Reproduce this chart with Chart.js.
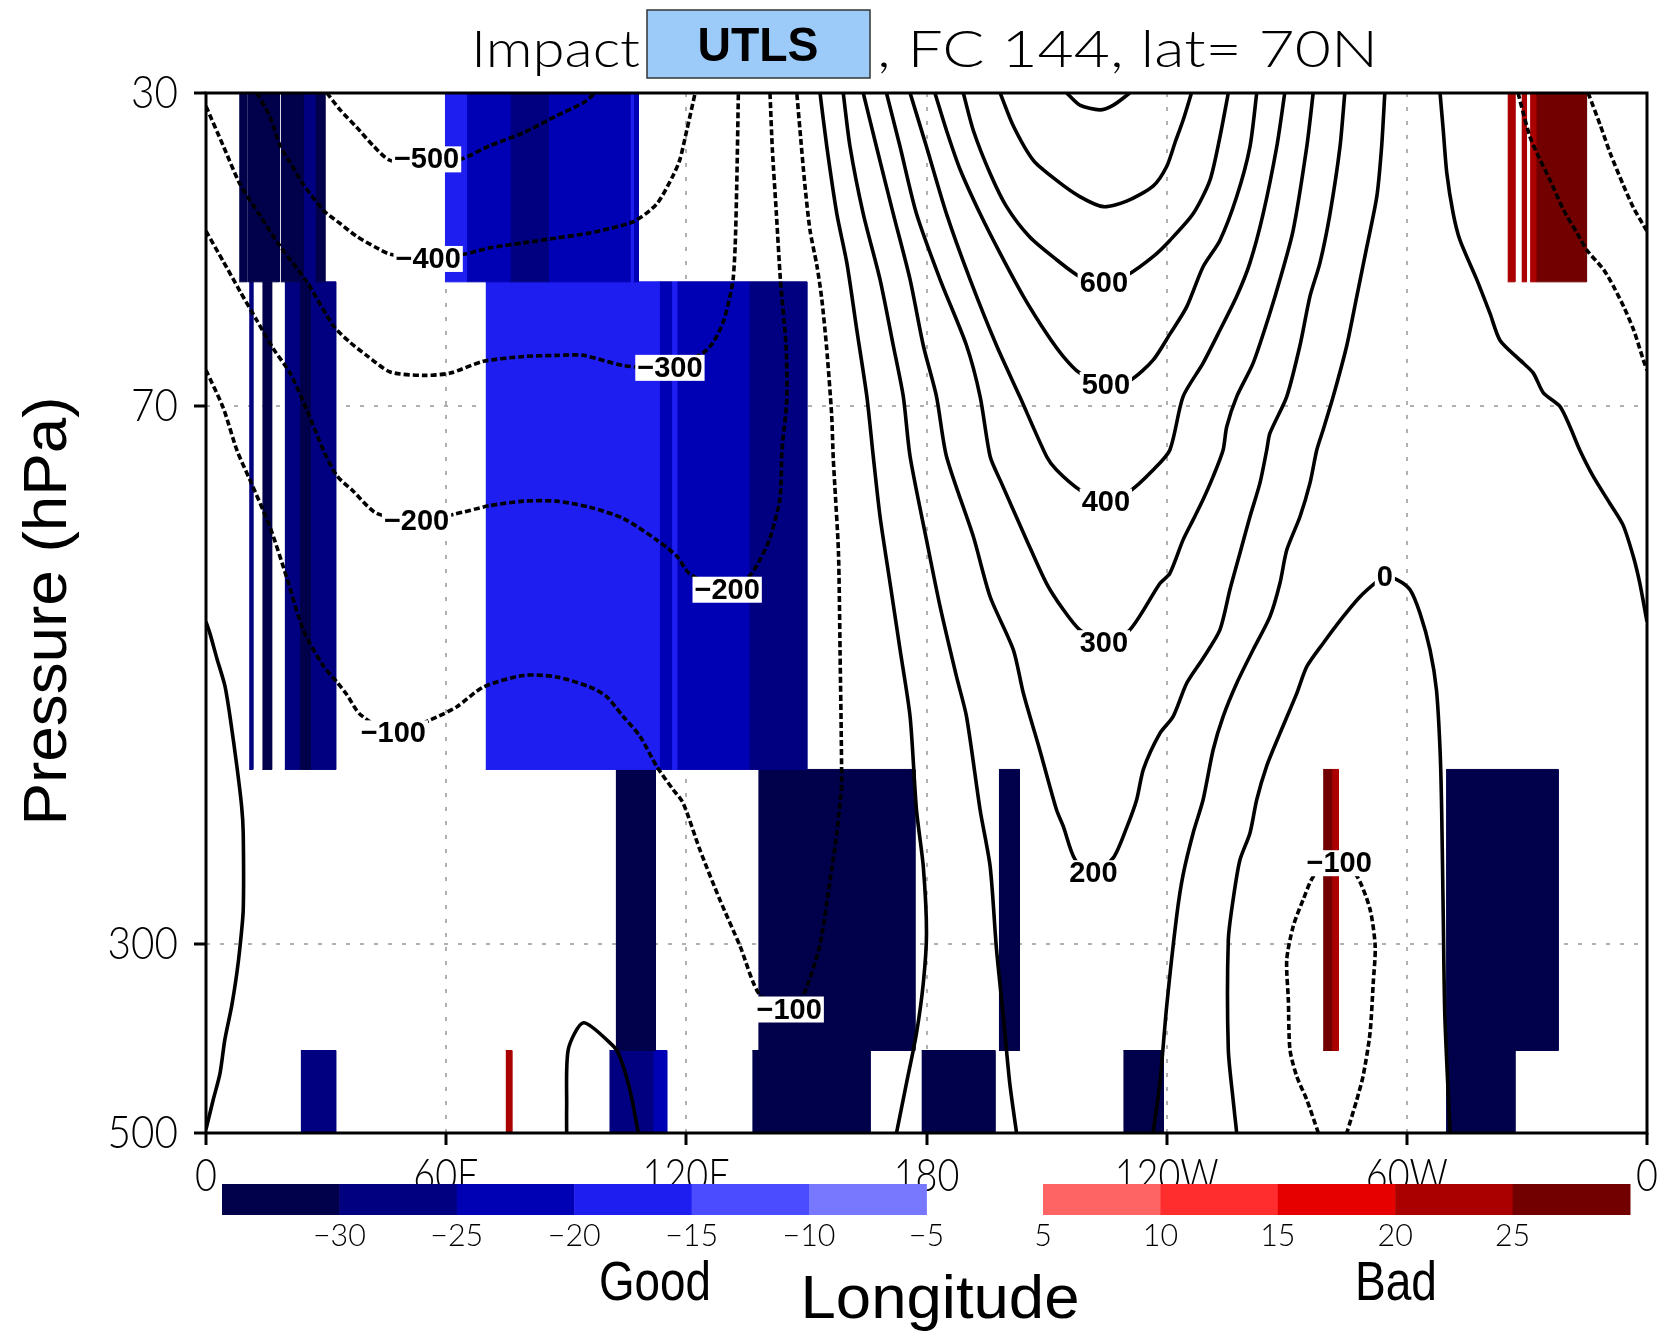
<!DOCTYPE html>
<html>
<head>
<meta charset="utf-8">
<script src="https://cdn.jsdelivr.net/npm/chart.js@4.4.1/dist/chart.umd.min.js"></script>
<style>
  html, body { margin: 0; padding: 0; background: #ffffff; }
  canvas { display: block; }
</style>
</head>
<body>
<canvas id="impact" width="1660" height="1333"></canvas>
<script>
// ---------- axes ----------
const lonTicks = [0, 60, 120, 180, 240, 300, 360];
const lonTickLabels = ['0', '60E', '120E', '180', '120W', '60W', '0'];
const pressureTicks = [30, 70, 300, 500];

// ---------- shaded impact cells: [lonStart, lonEnd, impact] per pressure layer ----------
const layerBounds = [30, 50, 187, 400, 500];
const layer1Cells = [[8.3,10.2,-32],[10.4,18.3,-32],[18.7,24.3,-32],[24.3,27.2,-27],[27.2,29.7,-32],
  [59.7,65.1,-17],[65.1,75.9,-22],[75.9,85.5,-27],[85.5,105.9,-22],[105.9,106.7,-17],[106.7,108.0,-22],
  [325.2,327.0,22],[328.7,329.9,22],[330.8,332.2,22],[332.2,344.9,27]];
const layer2Cells = [[10.8,11.7,-27],[14.1,16.4,-32],[19.7,23.3,-27],[23.3,26.0,-32],[26.0,32.4,-27],
  [69.9,113.2,-17],[113.2,116.3,-22],[116.3,117.6,-17],[117.6,135.6,-22],[135.6,150.1,-27]];
const layer3Cells = [[102.4,112.3,-32],[138.0,177.1,-32],[198.1,203.2,-32],[279.1,281.2,27],[281.2,282.9,22],[309.8,337.8,-32]];
const layer4Cells = [[23.7,32.4,-27],[74.9,76.4,22],[100.8,111.6,-27],[111.6,115.1,-22],[136.5,165.9,-32],
  [178.8,197.1,-32],[229.2,239.2,-32],[309.8,327.0,-32]];

// ---------- colour scale ----------
const goodBounds = [-30, -25, -20, -15, -10, -5];
const goodColors = ['#00004b', '#000080', '#0000b4', '#1e1ef0', '#4b4bff', '#7878ff'];
const badBounds = [5, 10, 15, 20, 25];
const badColors = ['#ff6464', '#ff2d2d', '#e60000', '#aa0000', '#730000'];

// ---------- contour lines: [lon, pressure] ----------
const cNeg500 = [[30.2,30],[33.5,31.4],[37.6,32.9],[41.8,34.6],[46.0,36.0],[55.1,36.2],[63.5,35.9],[70.9,34.6],[79.3,33.4],[87.6,31.9],[94.3,30.8],[97.2,30]];
const cNeg400 = [[12.7,30],[16.0,32.0],[18.5,34.6],[21.0,36.2],[24.3,38.4],[29.3,41.2],[33.5,42.7],[37.6,44.2],[42.6,45.6],[46.0,46.4],[55.5,47.0],[64.3,46.4],[70.9,45.6],[79.3,45.0],[87.6,44.4],[95.9,43.8],[106.7,42.5],[112.6,40.5],[116.7,37.5],[118.4,35.9],[120.1,33.2],[122.2,30]];
const cNeg300 = [[0,31.1],[4.3,34.6],[8.5,38.4],[13.5,41.8],[18.5,45.4],[25.2,50.0],[31.8,56.3],[36.0,58.9],[40.1,61.0],[46.0,63.8],[54.3,64.4],[61.0,64.0],[69.3,62.0],[79.3,61.2],[87.6,61.0],[94.3,61.0],[104.3,62.7],[115.9,63.1],[124.2,60.6],[126.7,58.9],[129.2,55.8],[130.9,52.0],[131.7,49.6],[132.2,45.4],[132.6,38.4],[133.0,30]];
const cNeg200 = [[0,43.6],[4.3,47.3],[8.5,51.3],[12.7,55.5],[16.8,59.9],[21.0,64.0],[25.2,70.7],[29.3,78.8],[32.7,84.5],[36.8,88.1],[42.6,93.5],[52.6,95.4],[61.8,93.8],[70.9,91.6],[79.3,90.5],[87.6,90.5],[95.9,92.0],[104.2,94.8],[112.6,100.5],[117.6,105],[120.9,110.2],[130.2,115],[135.9,110.6],[138.4,106],[140.9,100],[143.4,89.8],[143.9,78.8],[145.1,68.8],[144.9,59.4],[143.5,49.7],[142.5,41.6],[141.5,35.0],[140.9,30]];
const cNeg200East = [[345.3,30],[348.3,32.7],[350.8,35.3],[354.1,38.5],[356.6,40.9],[360,43.6]];
const cNeg100 = [[0,63.5],[4.3,70.3],[7.7,78.8],[11.0,85.5],[16.0,97.1],[20.2,111.4],[24.3,128.2],[29.3,141.3],[32.7,147.6],[35.2,152.8],[38.5,161.1],[46.8,169.6],[56.0,163.6],[62.6,157.9],[69.3,149.6],[79.3,145.0],[87.6,145.6],[95.9,149.6],[100.1,153.6],[104.2,162.0],[108.4,170.9],[112.6,185.5],[116.7,197.5],[119.2,204.8],[123.4,232.5],[128.4,266.2],[133.4,301.4],[138.4,344.5],[145.7,358],[149.2,344.5],[153.3,301.4],[155.8,254.4],[157.6,222.2],[158.4,204.3],[158.8,194],[158.4,135.3],[158.0,103.8],[157.1,86.9],[156.7,80.5],[156.3,71.6],[155.0,59.4],[153.8,52.2],[152.6,47.8],[150.9,43.5],[149.6,38.4],[148.4,33.2],[147.6,30]];
const cNeg100East = [[327.8,30],[329.1,31.7],[330.8,33.8],[332.5,35.3],[335.8,38.0],[339.2,41.2],[342.5,43.8],[345.0,45.9],[349.2,48.4],[351.7,50.7],[354.2,53.5],[356.7,57.0],[359.1,61.8],[360,63.5]];
const cNeg100Trough = [[277.9,500],[275.0,457],[272.5,429],[270.8,399],[270.4,349],[270.0,313],[271.6,286],[274.1,266],[277.0,248.7],[283.1,241],[287.5,249.5],[290.8,273],[292.1,302],[291.6,333.4],[290.8,381.7],[289.1,428],[287.5,457],[285.0,500]];
const cZeroWest = [[0,125.4],[1.0,129.5],[2.7,138.4],[4.7,149.0],[6.0,162.1],[7.7,185.2],[8.9,206.6],[9.3,222.2],[9.3,273.4],[8.5,302],[7.7,324.6],[6.4,355],[4.7,388.7],[3.5,425.5],[1.8,457],[0,495]];
const cZeroMid = [[153.4,30],[155.1,34.7],[157.6,41.6],[160.1,47.5],[162.6,57.0],[165.1,68.2],[166.7,80.2],[168.4,94.4],[170.9,113.0],[173.4,135.3],[175.9,162.1],[177.5,208.7],[179.2,243.2],[180.0,291.2],[179.2,333.4],[177.5,381.7],[175.0,437],[172.5,500]];
const cZeroLoop = [[90.1,500],[90.1,467],[90.5,399],[94.3,371],[101.7,395],[103.4,407],[105.9,445],[108.0,500]];
const cZeroDome = [[257.5,500],[256.6,457],[255.4,399],[255.4,296.6],[256.6,266],[258.3,238.9],[260.8,222.2],[262.5,203],[265.0,185.2],[268.3,169.6],[272.5,152.2],[275.0,141.6],[279.1,132.9],[284.1,123.7],[288.3,117.2],[292.5,112.5],[294.5,111],[297.5,111.9],[300.8,115],[303.3,122.6],[305.8,135.3],[307.4,150.8],[308.3,177.4],[308.7,208.7],[309.1,278.4],[309.5,364.9],[310.8,500]];
const cZeroEast = [[308.3,30],[309.1,33.2],[310.0,37.3],[311.6,41.6],[313.3,44.7],[317.4,49.6],[320.8,54.5],[323.3,58.6],[328.3,61.8],[331.6,64.0],[334.1,67.5],[338.2,70.0],[340.7,73.9],[343.2,78.8],[346.6,84.7],[350.7,91],[354.0,96.5],[356.6,105.2],[358.2,113],[360,125.4]];
const c100West = [[159.2,30],[160.9,34.7],[164.2,41.6],[168.4,49.7],[171.7,59.4],[174.2,68.2],[175.9,80.2],[180.0,100.5],[183.4,120.4],[187.5,145.5],[190.0,162.1],[193.4,208.7],[195.9,243.2],[197.5,304.7],[199.2,365],[200.8,437],[202.5,500]];
const c100East = [[236.6,500],[238.3,437],[240.0,355],[242.5,278],[244.1,248.7],[246.6,222.2],[249.1,203],[251.6,177.4],[254.1,162.1],[257.5,148.1],[261.6,135.3],[265.8,123.7],[268.3,113],[270.0,103.3],[273.3,94.4],[275.8,86.2],[277.5,78.8],[279.1,74.6],[281.6,68.2],[285.0,59.4],[287.5,52.0],[290.0,45.5],[292.5,39.7],[293.7,34.7],[294.5,30]];
const c200 = [[164.2,30],[167.5,34.7],[171.7,41.6],[175.9,49.7],[179.2,59.4],[182.5,68.2],[185.0,80.2],[191.7,99.6],[195.9,117.2],[201.7,135.3],[204.2,152.2],[208.3,177.4],[212.5,208.7],[214.2,218.3],[217.1,238.5],[221.7,247.6],[226.7,237.4],[230.0,218.9],[232.5,203.0],[234.2,186.8],[238.3,169.6],[241.6,162.1],[245.0,148.1],[249.1,138.4],[253.3,128.2],[255.8,115.0],[258.3,104.2],[260.8,94.4],[263.3,86.2],[265.0,78.8],[265.8,75.3],[270.0,68.2],[273.3,59.4],[275.8,52.0],[278.3,47.5],[280.8,41.6],[283.3,34.7],[284.5,30]];
const c300 = [[170.0,30],[173.4,34.7],[177.5,41.6],[183.4,49.7],[190.0,59.4],[193.4,68.2],[195.9,80.2],[198.4,85.5],[205.0,100.5],[210.0,113.1],[214.2,121.4],[218.3,128.2],[224.3,132.9],[230.8,128.2],[238.3,113.1],[240.8,110],[244.1,100.5],[246.6,95.2],[249.1,90.1],[251.6,84.7],[254.1,78.8],[255.0,74.0],[257.5,68.2],[261.6,62.3],[265.8,54.4],[268.3,49.7],[271.6,43.5],[275.0,34.7],[276.6,30]];
const c400 = [[175.9,30],[180.0,34.7],[185.0,41.6],[190.9,49.7],[197.5,59.4],[203.3,68.2],[210.0,80.2],[212.5,83.2],[218.3,87.8],[224.8,90.6],[230.8,88.1],[236.6,83.2],[240.8,78.8],[244.1,68.2],[249.1,62.3],[253.3,57.0],[257.5,52.0],[260.8,47.5],[264.1,41.6],[267.5,34.7],[269.5,30]];
const c500 = [[182.1,30],[185.0,33.2],[188.4,36.9],[193.4,41.6],[198.4,46.3],[204.2,52.0],[210.0,57.5],[214.2,61.2],[218.3,64.0],[224.8,66.1],[230.8,65.3],[236.6,61.8],[240.8,57.6],[245.0,53.5],[249.1,48.0],[253.3,44.7],[257.5,39.7],[260.8,34.7],[262.5,30]];
const c600 = [[189.2,30],[191.7,33.2],[195.9,37.3],[200.0,40.8],[205.8,44.3],[212.5,47.1],[218.3,49.3],[224.3,50.2],[230.1,49.1],[236.6,46.7],[240.8,44.7],[246.6,41.6],[250.8,38.0],[253.3,33.8],[255.4,30]];
const c700 = [[198.4,30],[201.7,32.8],[206.7,36.0],[212.5,38.0],[218.3,39.7],[224.2,40.8],[230.0,40.2],[236.6,38.6],[240.0,36.6],[242.1,34.3],[244.1,32.3],[246.2,30]];
const c800 = [[215.0,30],[218.3,31.0],[223.3,31.4],[226.7,31.0],[230.8,30]];

// contour label positions: [lon, pressure, level]
const contourLabels = [[55.1,35.9,-500],[55.5,47.0,-400],[115.9,63.1,-300],[52.6,95.4,-200],[130.2,115,-200],
  [46.8,169.6,-100],[145.7,358,-100],[283.1,241,-100],[294.5,111,0],
  [221.7,247.6,200],[224.3,132.9,300],[224.8,90.6,400],[224.8,66.1,500],[224.3,50.2,600]];

// ---------- build datasets ----------
const contourSet = [
  [-500, cNeg500], [-400, cNeg400], [-300, cNeg300], [-200, cNeg200], [-200, cNeg200East],
  [-100, cNeg100], [-100, cNeg100East], [-100, cNeg100Trough],
  [0, cZeroWest], [0, cZeroMid], [0, cZeroLoop], [0, cZeroDome], [0, cZeroEast],
  [100, c100West], [100, c100East], [200, c200], [300, c300], [400, c400],
  [500, c500], [600, c600], [700, c700], [800, c800]
];

function impactColor(v) {
  if (v < 0) return goodColors[goodBounds.filter(b => v >= b).length];
  return badColors[badBounds.filter(b => v >= b).length - 1];
}

const datasets = [];
contourSet.forEach(([level, pts]) => {
  datasets.push({
    type: 'line',
    label: 'z' + level,
    data: pts.map(([lon, p]) => ({ x: lon, y: p })),
    borderColor: '#000000',
    borderWidth: 3.6,
    borderDash: level < 0 ? [6, 3] : [],
    pointRadius: 0,
    pointHitRadius: 0,
    fill: false,
    tension: 0.25,
    order: 1
  });
});
[layer1Cells, layer2Cells, layer3Cells, layer4Cells].forEach((cells, i) => {
  const pTop = layerBounds[i], pBot = layerBounds[i + 1];
  cells.forEach(([l0, l1, v]) => {
    const col = impactColor(v);
    datasets.push({
      type: 'line',
      label: 'impact',
      data: [{ x: l0, y: pTop }, { x: l1, y: pTop }, { x: l1, y: pBot }, { x: l0, y: pBot }],
      fill: 'shape',
      backgroundColor: col,
      borderColor: col,
      borderWidth: 1,
      pointRadius: 0,
      pointHitRadius: 0,
      tension: 0,
      order: 10
    });
  });
});

// ---------- text helpers ----------
const thinFont = (px) => `300 ${px}px Lato, "DejaVu Sans", sans-serif`;
function drawSquashed(ctx, text, x, y, sx, align) {
  ctx.save();
  ctx.translate(x, y);
  ctx.scale(sx, 1);
  ctx.textAlign = align;
  ctx.fillText(text, 0, 0);
  ctx.restore();
}
function drawFitted(ctx, text, x, y, width, align) {
  const w = ctx.measureText(text).width;
  drawSquashed(ctx, text, x, y, width / w, align);
}
const fmtLevel = (v) => (v < 0 ? '\u2212' + Math.abs(v) : String(v));

const decorations = {
  id: 'decorations',
  afterDraw(chart) {
    const { ctx, chartArea: a, scales: { x, y } } = chart;
    ctx.save();

    // frame
    ctx.strokeStyle = '#000';
    ctx.lineWidth = 3;
    ctx.strokeRect(a.left, a.top, a.right - a.left, a.bottom - a.top);

    // contour labels
    ctx.font = 'bold 29px "Liberation Sans", Arial, sans-serif';
    ctx.textAlign = 'center';
    ctx.textBaseline = 'middle';
    contourLabels.forEach(([lon, p, v]) => {
      const px = x.getPixelForValue(lon), py = y.getPixelForValue(p);
      const t = fmtLevel(v);
      const w = ctx.measureText(t).width + 4;
      ctx.fillStyle = '#fff';
      ctx.fillRect(px - w / 2, py - 13, w, 26);
      ctx.fillStyle = '#000';
      ctx.fillText(t, px, py + 1);
    });

    // tick labels
    ctx.fillStyle = '#000';
    ctx.font = thinFont(46);
    ctx.textBaseline = 'middle';
    lonTicks.forEach((v, i) => drawSquashed(ctx, lonTickLabels[i], x.getPixelForValue(v), 1176, 0.82, 'center'));
    pressureTicks.forEach(v => drawSquashed(ctx, String(v), 178, y.getPixelForValue(v), 0.88, 'right'));

    // title
    ctx.textBaseline = 'alphabetic';
    ctx.font = thinFont(52);
    drawFitted(ctx, 'Impact', 471, 67, 169, 'left');
    ctx.fillStyle = '#9dcbf9';
    ctx.fillRect(647, 10, 223, 68);
    ctx.strokeStyle = '#333';
    ctx.lineWidth = 1.5;
    ctx.strokeRect(647, 10, 223, 68);
    ctx.fillStyle = '#000';
    ctx.font = 'bold 48px "Liberation Sans", Arial, sans-serif';
    drawFitted(ctx, 'UTLS', 758, 61, 121, 'center');
    ctx.font = thinFont(52);
    drawFitted(ctx, ', FC 144, lat= 70N', 877, 67, 501, 'left');

    // colour bars
    const segW = 117.4, barTop = 1184, barH = 31;
    goodColors.forEach((c, i) => { ctx.fillStyle = c; ctx.fillRect(222 + i * segW, barTop, segW + 0.5, barH); });
    badColors.forEach((c, i) => { ctx.fillStyle = c; ctx.fillRect(1043 + i * segW, barTop, segW + 0.5, barH); });
    ctx.fillStyle = '#000';
    ctx.font = thinFont(32);
    ctx.textBaseline = 'middle';
    goodBounds.forEach((v, i) => drawSquashed(ctx, fmtLevel(v), 222 + (i + 1) * segW, 1236, 0.95, 'center'));
    badBounds.forEach((v, i) => drawSquashed(ctx, String(v), 1043 + i * segW, 1236, 0.95, 'center'));

    // axis titles and bar captions
    ctx.textBaseline = 'alphabetic';
    ctx.font = '56px "Liberation Sans", Arial, sans-serif';
    drawFitted(ctx, 'Good', 655, 1300, 112, 'center');
    drawFitted(ctx, 'Bad', 1396, 1300, 82, 'center');
    ctx.font = '62px "Liberation Sans", Arial, sans-serif';
    drawFitted(ctx, 'Longitude', 940, 1318, 279, 'center');
    ctx.save();
    ctx.translate(66, 611);
    ctx.rotate(-Math.PI / 2);
    drawFitted(ctx, 'Pressure (hPa)', 0, 0, 429, 'center');
    ctx.restore();

    ctx.restore();
  }
};

const edgeTransparent = (edges) => (c) => (c.tick && edges.includes(c.tick.value)) ? 'rgba(0,0,0,0)' : '#b0b0b0';

new Chart(document.getElementById('impact'), {
  type: 'scatter',
  data: { datasets },
  options: {
    responsive: false,
    animation: false,
    devicePixelRatio: 1,
    events: [],
    layout: { padding: { top: 93, right: 13, left: 0, bottom: 0 } },
    plugins: { legend: { display: false }, tooltip: { enabled: false }, title: { display: false } },
    scales: {
      x: {
        type: 'linear', position: 'bottom', min: 0, max: 360, z: 1,
        afterBuildTicks: (s) => { s.ticks = lonTicks.map(v => ({ value: v })); },
        afterFit: (s) => { s.height = 200; },
        ticks: { display: false },
        grid: { color: edgeTransparent([0, 360]), lineWidth: 2, drawTicks: true, tickLength: 12, tickColor: '#000', tickWidth: 3 },
        border: { display: false, dash: [4, 10] }
      },
      y: {
        type: 'logarithmic', position: 'left', reverse: true, min: 30, max: 500, z: 1,
        afterBuildTicks: (s) => { s.ticks = pressureTicks.map(v => ({ value: v })); },
        afterFit: (s) => { s.width = 206; },
        ticks: { display: false },
        grid: { color: edgeTransparent([30, 500]), lineWidth: 2, drawTicks: true, tickLength: 12, tickColor: '#000', tickWidth: 3 },
        border: { display: false, dash: [4, 10] }
      }
    }
  },
  plugins: [decorations]
});
</script>
</body>
</html>
